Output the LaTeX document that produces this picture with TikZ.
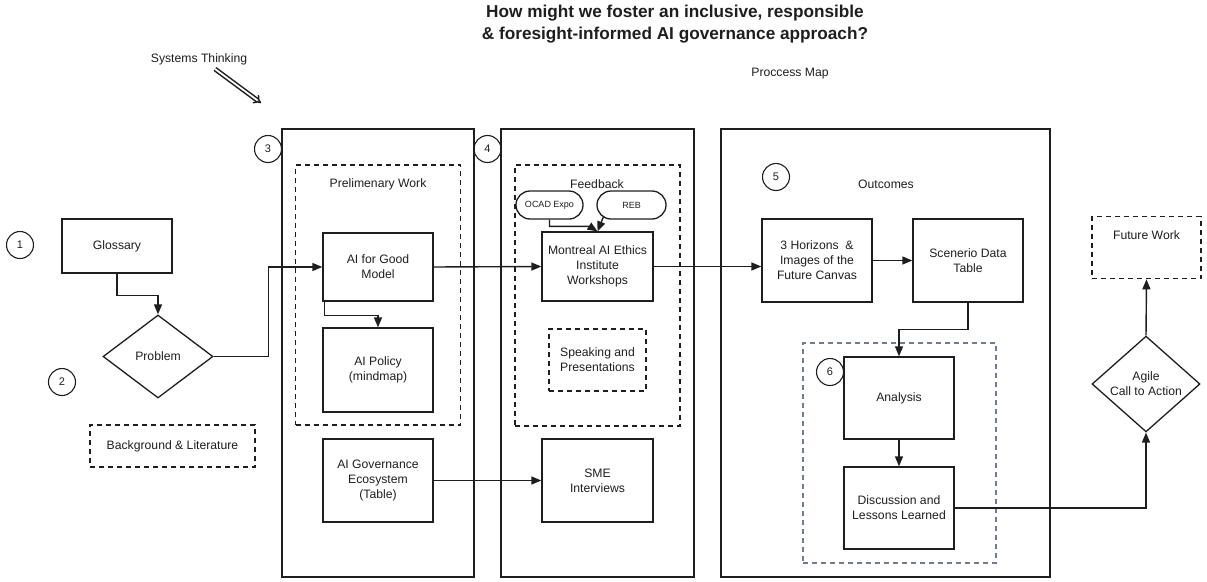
\documentclass[tikz,border=0pt]{standalone}
\usepackage{fontspec}
\setmainfont{Liberation Sans}
\usetikzlibrary{arrows.meta,shapes.geometric,shapes.misc}
\definecolor{ink}{RGB}{30,30,30}
\definecolor{slate}{RGB}{112,124,150}
\begin{document}
\begin{tikzpicture}[x=1pt,y=-1pt,
  every node/.style={font=\fontsize{12.2}{15}\selectfont, text=ink},
  proc/.style={draw=ink, line width=1.3pt, rectangle, minimum width=110pt, minimum height=83pt, inner sep=0pt, align=center},
  dbox/.style={draw=ink, line width=1.3pt, dash pattern=on 5pt off 4pt, rectangle, inner sep=0pt, align=center},
  panel/.style={draw=ink, line width=1.3pt, rectangle, inner sep=0pt, minimum height=448pt},
  num/.style={draw=ink, circle, line width=1.1pt, minimum size=27pt, inner sep=0pt, font=\fontsize{11}{13}\selectfont},
  dec/.style={draw=ink, diamond, line width=1.3pt, inner sep=0pt, align=center},
  pill/.style={draw=ink, rounded rectangle, line width=1.3pt, minimum width=67pt, minimum height=28pt, inner sep=0pt, font=\fontsize{9}{11}\selectfont},
  lab/.style={inner sep=0pt},
  arr/.style={draw=ink, line width=1.4pt, -{Triangle[length=10pt,width=8pt]}}
]
\useasboundingbox (0,0) rectangle (1207,581);

% title and free labels
\node[lab, align=center, font=\bfseries\fontsize{17.2}{22}\selectfont] (title) at (675,24)
  {How might we foster an inclusive, responsible\\\& foresight-informed AI governance approach?};
\node[lab] (proc) at (790,74) {Proccess Map};
\node[lab] (syst) at (199,59) {Systems Thinking};
\coordinate (st1) at (215,69);
\coordinate (st2) at (261,103);
\draw[ink, double=white, double distance=1.8pt, line width=1.5pt, -{Implies}] (st1) -- (st2);

% panels
\node[panel, minimum width=192pt] (p3) at (378,353) {};
\node[panel, minimum width=193pt] (p4) at (597.5,353) {};
\node[panel, minimum width=329pt] (p5) at (885.5,353) {};

% dashed frames
\node[dbox, minimum width=165pt, minimum height=260pt] (prelim) at (378,295) {};
\node[dbox, minimum width=165pt, minimum height=261pt] (feedback) at (597.5,295.5) {};
\node[dbox, draw=slate, line width=1.1pt, minimum width=193pt, minimum height=220pt] (analysisframe) at (899.5,453) {};

\node[lab] (prelimlab) at (378,184) {Prelimenary Work};
\node[lab] (feedlab) at (597,184) {Feedback};
\node[lab] (outlab) at (886,184) {Outcomes};

% numbers
\node[num] (n1) at (20,245) {1};
\node[num] (n2) at (62,382) {2};
\node[num] (n3) at (268,149) {3};
\node[num] (n4) at (487.5,149) {4};
\node[num] (n5) at (776,177) {5};
\node[num] (n6) at (830,372) {6};

% left column
\node[proc, minimum height=54pt] (glossary) at (117,246) {Glossary};
\node[dec, minimum width=110pt, minimum height=83pt] (problem) at (158,356.5) {Problem};
\node[dbox, minimum width=165pt, minimum height=42pt] (background) at (172.5,446) {Background \& Literature};

% panel 3
\node[proc, minimum height=68pt] (aigood) at (378,267) {AI for Good\\Model};
\node[proc, minimum height=84pt] (aipolicy) at (378,370) {AI Policy\\(mindmap)};
\node[proc] (aigov) at (378,480.5) {AI Governance\\Ecosystem\\(Table)};

% panel 4
\node[pill] (ocad) at (549.5,205) {OCAD Expo};
\node[pill, minimum width=69pt] (reb) at (631.5,205) {REB};
\node[proc, minimum width=111pt, minimum height=69pt] (montreal) at (597.5,266.5) {Montreal AI Ethics\\Institute\\Workshops};
\node[dbox, minimum width=97pt, minimum height=62pt] (speaking) at (597.5,360) {Speaking and\\Presentations};
\node[proc, minimum width=111pt] (sme) at (597.5,480.5) {SME\\Interviews};

% panel 5
\node[proc] (horizons) at (817,260.5) {3 Horizons\ \ \&\\Images of the\\Future Canvas};
\node[proc] (scenerio) at (968,260.5) {Scenerio Data\\Table};
\node[proc, minimum height=82pt] (analysis) at (899,398) {Analysis};
\node[proc, minimum height=82pt] (discussion) at (899,508) {Discussion and\\Lessons Learned};

% right
\node[dec, minimum width=108pt, minimum height=82pt] (agile) at (1146,384) {Agile\\Call to Action};
\node[dbox, anchor=north, minimum width=109pt, text height=9pt, text depth=25pt, inner ysep=14pt] (future) at (1146.5,216) {Future Work};

% connectors
\draw[arr] (glossary.south) -- ++(0,22) -| (problem.north);
\draw[arr] (problem.east) -- ++(55,0) |- (aigood.west);
\draw[arr] ([xshift=2pt]aigood.south west) -- ++(0,14) -| (aipolicy.north);
\draw[arr] (aigood.east) -- (montreal.west);
\draw[arr] (ocad.south) |- ([xshift=-8pt,yshift=5pt]montreal.north) -- (montreal.north);
\draw[arr] ([xshift=-28pt,yshift=3pt]reb.south) -- (montreal.north);
\draw[arr] (montreal.east) -- (montreal.east -| horizons.west);
\draw[arr] (horizons.east) -- (scenerio.west);
\draw[arr] (scenerio.south) -- ++(0,27) -| (analysis.north);
\draw[arr] (analysis.south) -- (discussion.north);
\draw[arr] (discussion.east) -| (agile.south);
\draw[arr] (agile.north) -- (future.south);
\draw[arr] (aigov.east) -- (sme.west);
\end{tikzpicture}
\end{document}
